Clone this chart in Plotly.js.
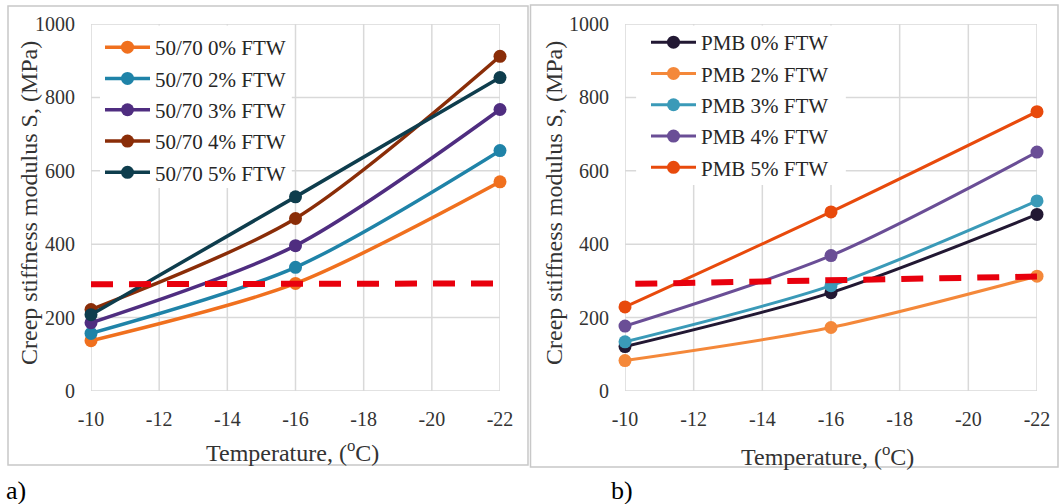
<!DOCTYPE html>
<html>
<head>
<meta charset="utf-8">
<script src="https://cdn.plot.ly/plotly-3.0.1.min.js"></script>
<style>html,body{margin:0;padding:0;background:#fff;}#chart{width:1061px;height:504px;}</style>
</head>
<body>
<div id="chart"></div>
<script>
// ---- data ----
const temps = [-10, -16, -22];

const names5070 = ['50/70 0% FTW', '50/70 2% FTW', '50/70 3% FTW', '50/70 4% FTW', '50/70 5% FTW'];
const s5070_0 = [137, 293, 570];
const s5070_2 = [157, 337, 655];
const s5070_3 = [186, 396, 767];
const s5070_4 = [222, 470, 912];
const s5070_5 = [208, 529, 854];

const namesPMB = ['PMB 0% FTW', 'PMB 2% FTW', 'PMB 3% FTW', 'PMB 4% FTW', 'PMB 5% FTW'];
const pmb_0 = [121, 268, 481];
const pmb_2 = [83, 173, 313];
const pmb_3 = [134, 287, 518];
const pmb_4 = [177, 369, 651];
const pmb_5 = [229, 488, 761];

// limit (dashed red) lines
const limitX_a = [-10, -22];
const limitY_a = [291, 293];
const limitX_b = [-10.3, -22];
const limitY_b = [292, 312];

const xTickVals = [-10, -12, -14, -16, -18, -20, -22];
const xTickText = ['-10', '-12', '-14', '-16', '-18', '-20', '-22'];
const yTickVals = [0, 200, 400, 600, 800, 1000];
const yTickText = ['0', '200', '400', '600', '800', '1000'];

// ---- styling ----
const colors5070 = ['#f0701e', '#1f83a8', '#4f2d80', '#8a2d08', '#0e3d4d'];
const colorsPMB = ['#221833', '#f4883a', '#3a9ab8', '#6a4e96', '#e84a0c'];
const FONT = 'Liberation Serif';
const GRID = '#d9d9d9';
const W = 1061, H = 504;
const px = v => v / W;
const py = v => 1 - v / H;

const series5070 = [s5070_0, s5070_2, s5070_3, s5070_4, s5070_5];
const seriesPMB = [pmb_0, pmb_2, pmb_3, pmb_4, pmb_5];

const traces = [];
series5070.forEach((ys, i) => {
  traces.push({
    x: temps, y: ys, name: names5070[i], type: 'scatter', mode: 'lines+markers',
    xaxis: 'x', yaxis: 'y', legend: 'legend', legendgroup: 'a' + i,
    line: {color: colors5070[i], width: 3.5, shape: 'spline', smoothing: 0.8},
    marker: {color: colors5070[i], size: 13},
    cliponaxis: false
  });
});
traces.push({
  x: limitX_a, y: limitY_a, type: 'scatter', mode: 'lines', xaxis: 'x', yaxis: 'y',
  showlegend: false, line: {color: '#e8000d', width: 6, dash: '22px,16px'}
});
seriesPMB.forEach((ys, i) => {
  traces.push({
    x: temps, y: ys, name: namesPMB[i], type: 'scatter', mode: 'lines+markers',
    xaxis: 'x2', yaxis: 'y2', legend: 'legend2', legendgroup: 'b' + i,
    line: {color: colorsPMB[i], width: 3, shape: 'spline', smoothing: 0.8},
    marker: {color: colorsPMB[i], size: 13},
    cliponaxis: false
  });
});
traces.push({
  x: limitX_b, y: limitY_b, type: 'scatter', mode: 'lines', xaxis: 'x2', yaxis: 'y2',
  showlegend: false, line: {color: '#e8000d', width: 6, dash: '22px,16px'}
});

const xAxisBase = {
  range: [-10, -22], tickvals: xTickVals, ticktext: xTickText,
  showgrid: false, zeroline: false, showline: false,
  ticks: '', ticklabelstandoff: 14, tickfont: {family: FONT, size: 20, color: '#333'},
  fixedrange: true
};
const yAxisBase = {
  range: [0, 1000], tickvals: yTickVals, ticktext: yTickText,
  showgrid: false, zeroline: false, showline: false,
  ticks: '', ticklabelstandoff: 15, tickfont: {family: FONT, size: 20, color: '#333'},
  domain: [py(391), py(24)], fixedrange: true
};

const legendBase = {
  bgcolor: 'rgba(0,0,0,0)', borderwidth: 0, font: {family: FONT, size: 21, color: '#262626'},
  xanchor: 'left', yanchor: 'top', traceorder: 'grouped', tracegroupgap: 1, itemwidth: 45
};

const titleFont = {family: FONT, size: 24, color: '#333'};

// grid lines drawn as shapes (below traces), then white legend backgrounds on top of them
function gridShapes(xa, ya) {
  const s = [];
  xTickVals.forEach(v => s.push({type: 'line', xref: xa, yref: ya + ' domain', x0: v, x1: v, y0: 0, y1: 1,
    line: {color: GRID, width: 1.5}, layer: 'below'}));
  yTickVals.forEach(v => s.push({type: 'line', xref: xa + ' domain', yref: ya, x0: 0, x1: 1, y0: v, y1: v,
    line: {color: GRID, width: 1.5}, layer: 'below'}));
  return s;
}

const shapes = [
  {type: 'rect', xref: 'paper', yref: 'paper', x0: px(8), x1: px(528), y0: py(465), y1: py(6),
   line: {color: '#c8c8c8', width: 1.5}, layer: 'below'},
  {type: 'rect', xref: 'paper', yref: 'paper', x0: px(530.5), x1: px(1058), y0: py(467), y1: py(5),
   line: {color: '#c8c8c8', width: 1.5}, layer: 'below'}
].concat(gridShapes('x', 'y'), gridShapes('x2', 'y2'), [
  {type: 'rect', xref: 'x domain', yref: 'y domain', x0: 0.022, x1: 0.491, y0: 0.553, y1: 0.996,
   fillcolor: '#ffffff', line: {width: 0}, layer: 'below'},
  {type: 'rect', xref: 'x2 domain', yref: 'y2 domain', x0: 0.027, x1: 0.536, y0: 0.561, y1: 0.996,
   fillcolor: '#ffffff', line: {width: 0}, layer: 'below'}
]);

const layout = {
  width: W, height: H, autosize: false,
  margin: {l: 0, r: 0, t: 0, b: 0},
  paper_bgcolor: '#ffffff', plot_bgcolor: 'rgba(0,0,0,0)',
  font: {family: FONT, color: '#333'},
  xaxis: Object.assign({}, xAxisBase, {domain: [px(91), px(500)], anchor: 'y'}),
  yaxis: Object.assign({}, yAxisBase, {anchor: 'x'}),
  xaxis2: Object.assign({}, xAxisBase, {domain: [px(625), px(1037)], anchor: 'y2'}),
  yaxis2: Object.assign({}, yAxisBase, {anchor: 'x2'}),
  legend: Object.assign({}, legendBase, {x: px(100), y: py(27)}),
  legend2: Object.assign({}, legendBase, {x: px(646), y: py(22)}),
  shapes: shapes,
  annotations: [
    {xref: 'paper', yref: 'paper', x: px(29), y: py(203), text: 'Creep stiffness modulus S, (MPa)',
     textangle: -90, showarrow: false, xanchor: 'center', yanchor: 'middle', font: titleFont},
    {xref: 'paper', yref: 'paper', x: px(554), y: py(203), text: 'Creep stiffness modulus S, (MPa)',
     textangle: -90, showarrow: false, xanchor: 'center', yanchor: 'middle', font: titleFont},
    {xref: 'paper', yref: 'paper', x: px(292), y: py(451), text: 'Temperature, (<sup>o</sup>C)',
     showarrow: false, xanchor: 'center', yanchor: 'middle', font: titleFont},
    {xref: 'paper', yref: 'paper', x: px(827), y: py(455), text: 'Temperature, (<sup>o</sup>C)',
     showarrow: false, xanchor: 'center', yanchor: 'middle', font: titleFont},
    {xref: 'paper', yref: 'paper', x: px(4), y: py(490), text: 'a)',
     showarrow: false, xanchor: 'left', yanchor: 'middle',
     font: {family: FONT, size: 26, color: '#000'}},
    {xref: 'paper', yref: 'paper', x: px(609), y: py(490), text: 'b)',
     showarrow: false, xanchor: 'left', yanchor: 'middle',
     font: {family: FONT, size: 26, color: '#000'}}
  ]
};

Plotly.newPlot('chart', traces, layout, {staticPlot: true, displayModeBar: false});
</script>
</body>
</html>
